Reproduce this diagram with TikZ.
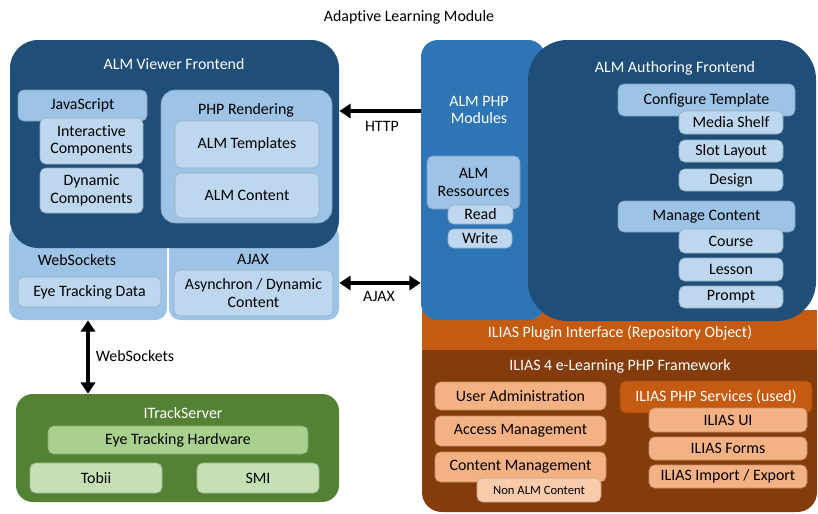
\documentclass[tikz,border=0pt]{standalone}
\usepackage{fontspec}
\setmainfont{Carlito}[Ligatures=NoCommon]
\usetikzlibrary{arrows.meta}

\definecolor{almdark}{HTML}{1F4E79}
\definecolor{almmid}{HTML}{2E75B6}
\definecolor{almlight}{HTML}{9DC3E6}
\definecolor{almpale}{HTML}{BDD7EE}
\definecolor{trackdark}{HTML}{548235}
\definecolor{tracklight}{HTML}{A9D18E}
\definecolor{trackpale}{HTML}{C5E0B4}
\definecolor{iliasmid}{HTML}{C55A11}
\definecolor{iliasdark}{HTML}{843C0C}
\definecolor{iliaslight}{HTML}{F4B183}
\definecolor{iliaspale}{HTML}{F8CBAD}

\newlength\pxu
\setlength\pxu{0.025cm}

\begin{document}
\begin{tikzpicture}[
      x=\pxu, y=-\pxu,
      font=\fontsize{11.3}{12.5}\selectfont,
      box/.style ={rectangle,rounded corners=4pt,align=center,inner sep=1pt,
                   fill=#1,draw=#1!80!black,line width=0.4pt},
      box/.default=almpale,
      big box/.style ={rectangle,rounded corners=#1,draw=none,inner sep=0pt},
      big box/.default=14pt,
      head/.style ={text=white,align=center},
      link/.style ={line width=2.5pt,{Triangle[length=8pt,width=10pt]}-{Triangle[length=8pt,width=10pt]}},
      http link/.style ={line width=2.5pt,{Triangle[length=8pt,width=10pt]}-}]
    \useasboundingbox (0,0) rectangle (818,514);
    \node (title) at (409,17) {Adaptive Learning Module};

    % viewer side
    \node[big box=8pt,fill=almlight,minimum width=158\pxu,minimum height=95\pxu] (websock) at (88,272.5) {};
    \node[big box=8pt,fill=almlight,minimum width=170\pxu,minimum height=95\pxu] (ajaxbox) at (254,272.5) {};
    \node[big box=20pt,fill=almdark,minimum width=329\pxu,minimum height=208\pxu] (viewer) at (174.5,144) {};
    \node[head] (viewerlabel) at (174,64) {ALM Viewer Frontend};
    \node[box=almlight,minimum width=129\pxu,minimum height=31\pxu] (js) at (82.5,105.5) {JavaScript};
    \node[box,minimum width=103\pxu,minimum height=46\pxu] (interactive) at (91.5,141) {Interactive\\Components};
    \node[box,minimum width=103\pxu,minimum height=45\pxu] (dynamic) at (91.5,190.5) {Dynamic\\Components};
    \node[box=almlight,rounded corners=10pt,minimum width=171\pxu,minimum height=133\pxu] (phprender) at (246.5,156.5) {};
    \node (phplabel) at (246,110) {PHP Rendering};
    \node[box,minimum width=144\pxu,minimum height=47\pxu] (templates) at (247,144.5) {ALM Templates};
    \node[box,minimum width=144\pxu,minimum height=45\pxu] (almcontent) at (247,195.5) {ALM Content};
    \node (wslabel) at (77,260) {WebSockets};
    \node[box,minimum width=143\pxu,minimum height=30\pxu] (eyedata) at (89.5,292) {Eye Tracking Data};
    \node (ajaxlabel) at (253,259) {AJAX};
    \node[box,minimum width=159\pxu,minimum height=46\pxu] (async) at (253.5,293) {Asynchron / Dynamic\\Content};

    % eye tracker
    \node[big box=12pt,fill=trackdark,minimum width=323\pxu,minimum height=108\pxu] (itrack) at (177.5,448) {};
    \node[head] (itracklabel) at (183,413) {ITrackServer};
    \node[box=tracklight,minimum width=260\pxu,minimum height=28\pxu] (eyehw) at (178,440) {Eye Tracking Hardware};
    \node[box=trackpale,minimum width=132\pxu,minimum height=30\pxu] (tobii) at (96,478) {Tobii};
    \node[box=trackpale,minimum width=122\pxu,minimum height=30\pxu] (smi) at (258,478) {SMI};

    % ilias
    \node[big box=14pt,fill=iliasdark,minimum width=395\pxu,minimum height=182\pxu] (framework) at (619.5,421) {};
    \node[big box=0pt,fill=iliasmid,minimum width=395\pxu,minimum height=40\pxu] (plugin) at (619.5,330) {};
    \node[head] (pluginlabel) at (620,333) {ILIAS Plugin Interface (Repository Object)};
    \node[head] (frameworklabel) at (620,366) {ILIAS 4 e-Learning PHP Framework};
    \node[box=iliaslight,minimum width=171\pxu,minimum height=28\pxu] (useradmin) at (520.5,396) {User Administration};
    \node[box=iliaslight,minimum width=171\pxu,minimum height=30\pxu] (access) at (520.5,431) {Access Management};
    \node[box=iliaslight,minimum width=171\pxu,minimum height=30\pxu] (contentmgmt) at (520.5,467) {Content Management};
    \node[box=iliaspale,font=\fontsize{9}{10}\selectfont,minimum width=124\pxu,minimum height=24\pxu] (nonalm) at (539,490) {Non ALM Content};
    \node[box=iliasmid,text=white,minimum width=192\pxu,minimum height=32\pxu] (services) at (716,397) {ILIAS PHP Services (used)};
    \node[box=iliaslight,minimum width=158\pxu,minimum height=24\pxu] (iliasui) at (728,420) {ILIAS UI};
    \node[box=iliaslight,minimum width=158\pxu,minimum height=23\pxu] (forms) at (728,448.5) {ILIAS Forms};
    \node[box=iliaslight,minimum width=158\pxu,minimum height=23\pxu] (importexp) at (728,476.5) {ILIAS Import / Export};

    % authoring side
    \node[big box=12pt,fill=almmid,minimum width=124\pxu,minimum height=280\pxu] (modules) at (483,180) {};
    \node[head] (moduleslabel) at (479,110) {ALM PHP\\Modules};
    \node[box=almlight,minimum width=93\pxu,minimum height=53\pxu] (ressources) at (473.5,182.5) {ALM\\Ressources};
    \node[box,minimum width=65\pxu,minimum height=19\pxu] (read) at (480.5,214.5) {Read};
    \node[box,minimum width=64\pxu,minimum height=19\pxu] (write) at (480,238.5) {Write};
    \node[big box=28pt,fill=almdark,minimum width=288\pxu,minimum height=281\pxu] (authoring) at (672,180.5) {};
    \node[head] (authoringlabel) at (675,68) {ALM Authoring Frontend};
    \node[box=almlight,minimum width=177\pxu,minimum height=32\pxu] (config) at (706.5,100) {Configure Template};
    \node[box,minimum width=104\pxu,minimum height=23\pxu] (media) at (731,122.5) {Media Shelf};
    \node[box,minimum width=104\pxu,minimum height=22\pxu] (slot) at (731,151) {Slot Layout};
    \node[box,minimum width=104\pxu,minimum height=22\pxu] (design) at (731,180) {Design};
    \node[box=almlight,minimum width=177\pxu,minimum height=31\pxu] (manage) at (706.5,216.5) {Manage Content};
    \node[box,minimum width=104\pxu,minimum height=24\pxu] (course) at (731,241) {Course};
    \node[box,minimum width=104\pxu,minimum height=23\pxu] (lesson) at (731,269.5) {Lesson};
    \node[box,minimum width=104\pxu,minimum height=22\pxu] (prompt) at (731,297) {Prompt};

    % connections
    \draw[http link] (viewer.east |- 0,111) -- (modules.west |- 0,111);
    \node (httplabel) at (382,126) {HTTP};
    \draw[link] (ajaxbox.east |- 0,283) -- (modules.west |- 0,283);
    \node (ajaxlink) at (379,296) {AJAX};
    \draw[link] (websock.south) -- (websock.south |- itrack.north);
    \node (wslink) at (135,356) {WebSockets};
\end{tikzpicture}
\end{document}
